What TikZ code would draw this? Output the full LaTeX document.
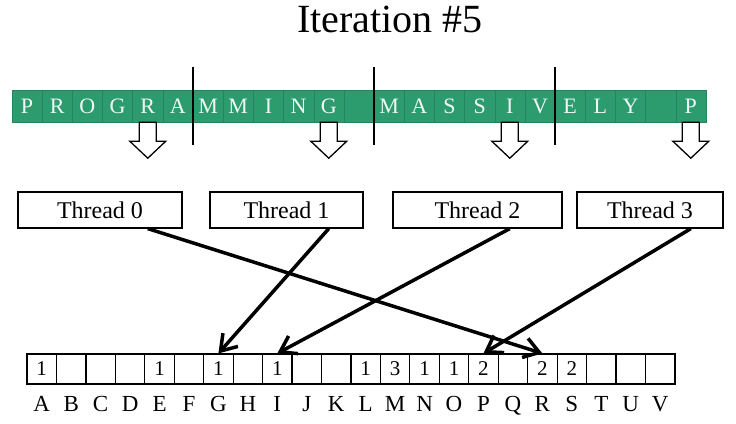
\documentclass[tikz,border=0pt]{standalone}
\usepackage{fontspec}
\setmainfont{Liberation Serif}
\usetikzlibrary{positioning,arrows.meta}

\definecolor{stripgreen}{RGB}{44,155,110}

\tikzset{
	letter/.style={fill=stripgreen, draw=stripgreen!85!black, line width=0.4pt,
		minimum width=30.17pt, minimum height=32pt, inner sep=0pt,
		text=white!92!stripgreen, font=\fontsize{22}{22}\selectfont},
	thread/.style={draw, line width=1.2pt, minimum height=36pt, inner sep=0pt,
		font=\fontsize{24}{24}\selectfont},
	bin/.style={draw, line width=1.2pt, minimum width=29.45pt, minimum height=30pt,
		inner sep=0pt, font=\fontsize{21}{21}\selectfont},
	binlabel/.style={anchor=base, inner sep=0pt, font=\fontsize{23}{23}\selectfont},
	update/.style={line width=3.5pt, -{Straight Barb[length=15pt,width=20pt]}},
	hollow/.style={draw, line width=1.3pt, fill=white},
	divider/.style={line width=2pt}
}

\begin{document}
\begin{tikzpicture}[x=1pt,y=-1pt]
	\useasboundingbox (0,0) rectangle (736,423);

	% Title:
	\node[anchor=base, font=\fontsize{40}{40}\selectfont] (title) at (390,32) {Iteration \#5};

	% Input characters:
	\foreach \ch [count=\i from 0] in {P,R,O,G,R,A,M,M,I,N,G,{},M,A,S,S,I,V,E,L,Y,{},P}
		\node[letter] (c\i) at ({12+(\i+0.5)*30.17},106) {\ch};

	% Section borders:
	\foreach \k in {5,11,17}
		\draw[divider] (c\k.east) ++(0,-39) -- ++(0,78);

	% Current characters:
	\foreach \k in {4,10,16,22}
		\draw[hollow] (c\k.south) ++(-8.5,0) -- ++(0,19) -- ++(-9.5,0) -- ++(18,17)
			-- ++(18,-17) -- ++(-9.5,0) -- ++(0,-19) -- cycle;

	% Threads:
	\node[thread, minimum width=164pt] (t0) at (100,210) {Thread 0};
	\node[thread, minimum width=153pt] (t1) at (286.5,210) {Thread 1};
	\node[thread, minimum width=169pt] (t2) at (477.5,210) {Thread 2};
	\node[thread, minimum width=146pt] (t3) at (650,210) {Thread 3};

	% Histogram:
	\foreach \ltr/\val [count=\i from 0] in {A/1,B/{},C/{},D/{},E/1,F/{},G/1,H/{},I/1,J/{},K/{},
		L/1,M/3,N/1,O/1,P/2,Q/{},R/2,S/2,T/{},U/{},V/{}} {
		\node[bin] (h\ltr) at ({27+(\i+0.5)*29.45},369) {\val};
		\node[binlabel] (l\ltr) at ({27+(\i+0.5)*29.45},411) {\ltr};
	}

	% Updates:
	\draw[update] (c4 |- t0.south) -- (hR.north);
	\draw[update] (c10 |- t1.south) -- (hG.north);
	\draw[update] (c16 |- t2.south) -- (hI.north);
	\draw[update] (c22 |- t3.south) -- (hP.north);

\end{tikzpicture}
\end{document}
